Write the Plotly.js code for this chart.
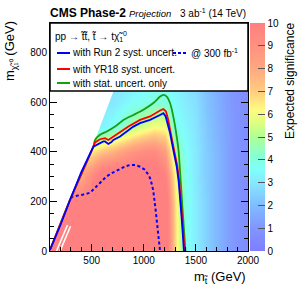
<!DOCTYPE html>
<html><head><meta charset="utf-8">
<script src="https://cdn.plot.ly/plotly-3.0.1.min.js"></script>
<style>html,body{margin:0;padding:0;background:#fff}</style>
</head><body><div id="chart" style="width:305px;height:293px"></div>
<script>
// grid of the significance map
const mStop = [100,200,300,400,500,600,700,800,900,1000,1100,1200,1300,1400,1500,1600,1700,1800,1900,2000];
const mLSP  = [0,100,200,300,400,500,600,700,800,900];
const significance = [
 [10,10,10,10,10,11,11,11,11,11,11,11,6.8,3.9,3.1,2.5,1.9,1.3,0.9,0.6],
 [10,10,10,10,10,11,11,11,11,11,11,11,6.8,3.9,3.1,2.5,1.9,1.3,0.9,0.6],
 [10,10,10,10,10,11,11,11,11,11,11,11,6.6,3.9,3.1,2.5,1.9,1.3,0.9,0.6],
 [8.5,8.5,8.5,8,9.5,11,11,11,11,11,11,10,6.2,3.8,3.0,2.4,1.9,1.3,0.9,0.6],
 [6.5,6.5,6.5,6.5,6.5,7.3,7.8,8.4,8.9,9.3,9.4,8.5,5.0,3.7,3.0,2.4,1.9,1.3,0.9,0.6],
 [3.3,3.3,3.3,3.3,3.3,3.3,3.7,4.3,5.1,5.6,6.1,6.0,3.8,3.4,2.9,2.3,1.8,1.3,0.9,0.6],
 [3,3,3,3,3,3,3,3.3,3.6,3.8,4.0,4.0,3.5,3.1,2.8,2.2,1.7,1.2,0.9,0.6],
 [2.8,2.8,2.8,2.8,2.8,2.8,2.8,2.8,3.1,3.3,3.5,3.5,3.2,2.9,2.6,2.1,1.6,1.2,0.9,0.6],
 [2.6,2.6,2.6,2.6,2.6,2.6,2.6,2.6,2.9,3.1,3.3,3.3,3.0,2.7,2.4,2.0,1.5,1.1,0.8,0.6],
 [2.5,2.5,2.5,2.5,2.5,2.5,2.5,2.5,2.7,2.9,3.1,3.1,2.9,2.6,2.3,1.9,1.5,1.1,0.8,0.6]
];
// kinematic boundary (white area above it)
const edgeX = [100, 292, 532, 708, 800, 800, 0, 0];
const edgeY = [12, 206, 448, 644, 745, 1000, 1000, 12];
// excluded strips around m(stop)-m(LSP) ~ m(top)
const stripAX = [162, 268], stripAY = [0, 105];
const stripBX = [196, 297], stripBY = [0, 100];
// contours
const run2X = [100,200,292,400,516,548,580,612,628,645,660,690,708,772,852,900,964,1060,1156,1188,1210,1229,1252,1283,1316,1335,1350,1362,1374,1385];
const run2Y = [4,105,206,318,421,428,435,442,442,436,432,440,448,462,489,502,516,529,549,556,543,516,476,408,341,280,214,140,70,0];
const yr18X = [100,292,516,532,580,628,660,708,772,852,964,1060,1156,1188,1213,1235,1258,1290,1322,1340,1355,1367,1380,1392];
const yr18Y = [4,206,421,438,451,455,448,462,478,502,529,543,567,573,563,529,476,408,341,280,214,140,70,0];
const statX = [100,292,516,532,580,644,724,804,900,996,1092,1156,1188,1220,1252,1283,1316,1335,1345,1358,1370,1385,1400];
const statY = [4,206,421,448,469,482,502,529,549,570,597,623,630,623,597,543,462,400,341,260,180,90,0];
const lowLumiX = [300,320,420,484,564,640,692,760,820,868,916,964,1010,1040,1060,1080,1092,1115,1135,1156];
const lowLumiY = [214,220,228,235,268,300,314,330,341,347,347,340,328,310,294,265,240,160,80,0];
const cbTicks = [0,1,2,3,4,5,6,7,8,9,10];

const F = 'Liberation Sans, Arial, sans-serif';
const colors = [[0,'rgb(126,126,255)'],[0.1,'rgb(128,150,255)'],[0.2,'rgb(128,188,255)'],[0.3,'rgb(135,232,255)'],[0.36,'rgb(128,255,250)'],[0.42,'rgb(135,255,210)'],[0.5,'rgb(175,255,150)'],[0.56,'rgb(220,255,128)'],[0.62,'rgb(255,250,128)'],[0.7,'rgb(255,205,128)'],[0.8,'rgb(255,168,128)'],[0.9,'rgb(255,145,128)'],[1,'rgb(255,128,128)']];

const traces = [
 {type:'heatmap', x:mStop, y:mLSP, z:significance, zmin:0, zmax:10, zsmooth:'best', colorscale:colors, hoverinfo:'skip',
  colorbar:{x:1.0101, xanchor:'left', xpad:0, ypad:0, y:0.5, yanchor:'middle', len:1, lenmode:'fraction', thickness:15,
   outlinewidth:0, ticks:'inside', ticklen:7, tickcolor:'#555', tickvals:cbTicks, tickfont:{family:F,size:10,color:'#000'}}},
 {type:'scatter', x:edgeX, y:edgeY, mode:'lines', fill:'toself', fillcolor:'#fff', line:{width:0,color:'#fff'}, hoverinfo:'skip'},
 {type:'scatter', x:stripAX, y:stripAY, mode:'lines', line:{width:1.6,color:'#fff'}, hoverinfo:'skip'},
 {type:'scatter', x:stripBX, y:stripBY, mode:'lines', line:{width:1.6,color:'#fff'}, hoverinfo:'skip'},
 {type:'scatter', x:lowLumiX, y:lowLumiY, mode:'lines', line:{width:2,color:'#0000ff',dash:'3px,2.5px'}, hoverinfo:'skip'},
 {type:'scatter', x:statX, y:statY, mode:'lines', line:{width:1.8,color:'#13a013',shape:'spline',smoothing:0.5}, hoverinfo:'skip'},
 {type:'scatter', x:yr18X, y:yr18Y, mode:'lines', line:{width:1.8,color:'#ff0000'}, hoverinfo:'skip'},
 {type:'scatter', x:run2X, y:run2Y, mode:'lines', line:{width:1.8,color:'#0000ff'}, hoverinfo:'skip'}
];

const legTop = (251-91)/228;
function lineShape(x0,x1,y,color,dash){return {type:'line',xref:'paper',yref:'paper',x0:x0,x1:x1,y0:y,y1:y,layer:'above',line:{color:color,width:2,dash:dash||'solid'}};}
function ann(text,x,y,size,opts){return Object.assign({text:text,x:x,y:y,xref:'paper',yref:'paper',showarrow:false,xanchor:'left',yanchor:'middle',font:{family:F,size:size,color:'#000'}},opts||{});}

const layout = {
 width:305, height:293, margin:{l:50,r:57,t:23,b:42}, paper_bgcolor:'#fff', plot_bgcolor:'#fff', showlegend:false,
 xaxis:{range:[100,2000], dtick:500, tick0:0, ticks:'inside', ticklen:7, tickcolor:'#000', showline:true, linecolor:'#000', linewidth:1, mirror:'ticks',
   showgrid:false, zeroline:false, tickfont:{family:F,size:10,color:'#000'}, minor:{dtick:100, ticks:'inside', ticklen:4, tickcolor:'#000', showgrid:false}},
 yaxis:{range:[0,920], dtick:200, tick0:0, ticks:'inside', ticklen:7, tickcolor:'#000', showline:true, linecolor:'#000', linewidth:1, mirror:'ticks',
   showgrid:false, zeroline:false, tickfont:{family:F,size:10,color:'#000'}, minor:{dtick:50, ticks:'inside', ticklen:4, tickcolor:'#000', showgrid:false}},
 shapes:[
  {type:'rect',xref:'paper',yref:'paper',x0:0,x1:1,y0:legTop,y1:1,fillcolor:'#fff',layer:'above',line:{color:'#000',width:1.5}},
  lineShape((57-50)/198,(70-50)/198,(251-53)/228,'#0000ff'),
  lineShape((173-50)/198,(188-50)/198,(251-53)/228,'#0000ff','3px,2px'),
  lineShape((57-50)/198,(70-50)/198,(251-69)/228,'#ff0000'),
  lineShape((57-50)/198,(70-50)/198,(251-83)/228,'#13a013')
 ],
 annotations:[
  ann('<b>CMS Phase-2</b>',(48-50)/198,(251-13)/228,12),
  ann('<i>Projection</i>',(127-50)/198,(251-13.5)/228,9.5),
  ann('3 ab<sup>-1</sup> (14 TeV)',1.0,(251-13)/228,10,{xanchor:'right'}),
  ann('pp → t̃t̃, t̃ → tχ̃<sub>1</sub><sup>0</sup>',(53-50)/198,(251-37)/228,10),
  ann('with Run 2 syst. uncert.',(70-50)/198,(251-53)/228,10),
  ann('@ 300 fb<sup>-1</sup>',(189-50)/198,(251-53)/228,10),
  ann('with YR18 syst. uncert.',(70-50)/198,(251-69)/228,10),
  ann('with stat. uncert. only',(70-50)/198,(251-83)/228,10),
  ann('m<sub>χ̃₁⁰</sub> (GeV)',(10-50)/198,(251-51)/228,13,{xanchor:'center',textangle:-90}),
  ann('m<sub>t̃</sub> (GeV)',1.0,(251-277)/228,13,{xanchor:'right'}),
  ann('Expected significance',(289.5-50)/198,(251-81.5)/228,12,{xanchor:'center',textangle:-90})
 ]
};
Plotly.newPlot('chart', traces, layout, {displayModeBar:false, staticPlot:true});
</script></body></html>
